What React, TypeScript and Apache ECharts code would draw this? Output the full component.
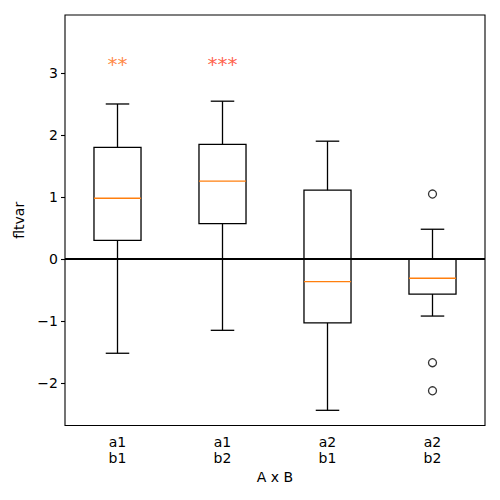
import React, { useEffect, useRef } from "react";
import * as echarts from "echarts";

const categories = ["a1\nb1", "a1\nb2", "a2\nb1", "a2\nb2"];
const whiskerLow = [-1.52, -1.15, -2.44, -0.92];
const q1 = [0.30, 0.57, -1.03, -0.565];
const median = [0.98, 1.255, -0.365, -0.31];
const q3 = [1.80, 1.85, 1.11, 0.0];
const whiskerHigh = [2.50, 2.545, 1.90, 0.48];
const outliers = [
  [3, 1.048],
  [3, -1.672],
  [3, -2.125],
];
const significance = ["**", "***"];
const significanceColors = ["#ff6a10", "#ff3a18"];
const significanceY = 3.145;
const yTicks = [-2, -1, 0, 1, 2, 3];
const yMin = -2.685;
const yMax = 3.935;

const FONT = "DejaVu Sans";

export default function App() {
  const ref = useRef<HTMLDivElement>(null);
  useEffect(() => {
    if (!ref.current) return;
    const chart = echarts.init(ref.current, null, { renderer: "svg" });
    const boxData = categories.map((_, i) => [
      i,
      whiskerLow[i],
      q1[i],
      median[i],
      q3[i],
      whiskerHigh[i],
    ]);
    const option: any = {
      animation: false,
      backgroundColor: "#ffffff",
      grid: {
        left: 65,
        right: 15,
        top: 15,
        bottom: 74.5,
        show: true,
        borderColor: "#000",
        borderWidth: 1.1,
        backgroundColor: "transparent",
      },
      xAxis: {
        type: "category",
        data: categories,
        boundaryGap: true,
        axisLine: { show: false },
        axisTick: { show: false },
        splitLine: { show: false },
        axisLabel: {
          color: "#000",
          fontFamily: FONT,
          fontSize: 14,
          lineHeight: 16,
          margin: 8,
        },
        name: "A x B",
        nameLocation: "middle",
        nameGap: 43,
        nameTextStyle: { color: "#000", fontFamily: FONT, fontSize: 14 },
      },
      yAxis: {
        type: "value",
        min: yMin,
        max: yMax,
        axisLine: { show: false },
        splitLine: { show: false },
        axisTick: {
          show: true,
          length: 4,
          lineStyle: { color: "#000", width: 1.1 },
          customValues: yTicks,
        },
        axisLabel: {
          color: "#000",
          fontFamily: FONT,
          fontSize: 14,
          margin: 7,
          customValues: yTicks,
          formatter: (v: number) => String(v).replace("-", "\u2212"),
        },
        name: "fltvar",
        nameLocation: "middle",
        nameGap: 37,
        nameTextStyle: { color: "#000", fontFamily: FONT, fontSize: 14 },
      },
      series: [
        {
          type: "custom",
          data: boxData,
          z: 2,
          renderItem: (params: any, api: any) => {
            const x = api.value(0);
            const pLow = api.coord([x, api.value(1)]);
            const pQ1 = api.coord([x, api.value(2)]);
            const pMed = api.coord([x, api.value(3)]);
            const pQ3 = api.coord([x, api.value(4)]);
            const pHigh = api.coord([x, api.value(5)]);
            const band = api.size([1, 0])[0];
            const boxW = band * 0.448;
            const capW = boxW / 2;
            const cx = pLow[0];
            const black = { stroke: "#000", lineWidth: 1.3, fill: "none" };
            return {
              type: "group",
              children: [
                {
                  type: "line",
                  shape: { x1: cx, y1: pLow[1], x2: cx, y2: pQ1[1] },
                  style: black,
                },
                {
                  type: "line",
                  shape: { x1: cx, y1: pQ3[1], x2: cx, y2: pHigh[1] },
                  style: black,
                },
                {
                  type: "line",
                  shape: { x1: cx - capW / 2, y1: pLow[1], x2: cx + capW / 2, y2: pLow[1] },
                  style: black,
                },
                {
                  type: "line",
                  shape: { x1: cx - capW / 2, y1: pHigh[1], x2: cx + capW / 2, y2: pHigh[1] },
                  style: black,
                },
                {
                  type: "rect",
                  shape: { x: cx - boxW / 2, y: pQ3[1], width: boxW, height: pQ1[1] - pQ3[1] },
                  style: black,
                },
                {
                  type: "line",
                  shape: { x1: cx - boxW / 2, y1: pMed[1], x2: cx + boxW / 2, y2: pMed[1] },
                  style: { stroke: "#ff7f0e", lineWidth: 1.3 },
                },
              ],
            };
          },
        },
        {
          type: "scatter",
          data: outliers,
          symbol: "circle",
          symbolSize: 8,
          z: 3,
          itemStyle: { color: "transparent", borderColor: "#000", borderWidth: 1.3 },
          markLine: {
            silent: true,
            symbol: ["none", "none"],
            label: { show: false },
            lineStyle: { color: "#000", width: 2, type: "solid" },
            data: [{ yAxis: 0 }],
            z: 5,
          },
        },
        {
          type: "scatter",
          symbolSize: 0,
          z: 4,
          data: significance.map((s, i) => ({
            value: [i, significanceY],
            label: {
              show: true,
              formatter: s,
              position: "inside",
              color: significanceColors[i],
              fontFamily: FONT,
              fontSize: 20,
            },
          })),
        },
      ],
    };
    chart.setOption(option);
    return () => chart.dispose();
  }, []);
  return (
    <div
      ref={ref}
      style={{ position: "fixed", left: 0, top: 0, width: 500, height: 500 }}
    />
  );
}
